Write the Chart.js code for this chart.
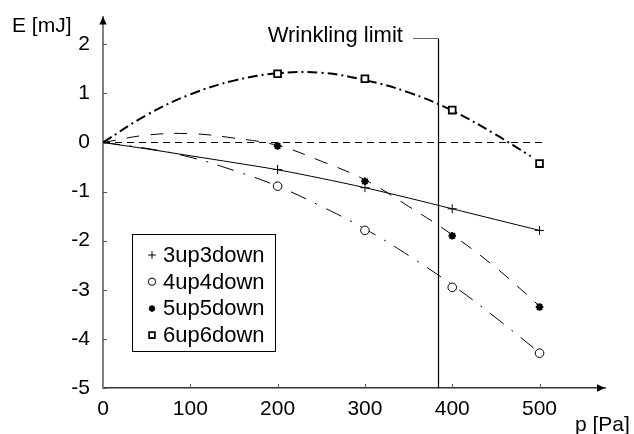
<!DOCTYPE html>
<html><head><meta charset="utf-8">
<script src="https://cdn.jsdelivr.net/npm/chart.js@4.4.1/dist/chart.umd.min.js"></script>
<style>html,body{margin:0;padding:0;background:#fff;}canvas{display:block;}</style>
</head><body>
<canvas id="c" width="634" height="434"></canvas>
<script>
// ---- data ----
const seriesNames = ['3up3down', '4up4down', '5up5down', '6up6down'];
const markerP = [200, 300, 400, 500];
const marker3 = [-0.55, -0.92, -1.35, -1.79];
const marker4 = [-0.89, -1.79, -2.95, -4.29];
const marker5 = [-0.07, -0.79, -1.90, -3.35];
const marker6 = [1.40, 1.30, 0.66, -0.43];

const fitP = [0, 50, 100, 150, 200, 250, 300, 350, 400, 450, 500];
const fit3 = [0, -0.13, -0.27, -0.41, -0.555, -0.73, -0.92, -1.13, -1.35, -1.57, -1.79];
const fit4 = [0, -0.12, -0.30, -0.57, -0.89, -1.30, -1.76, -2.30, -2.90, -3.57, -4.28];
const fit5 = [0, 0.15, 0.18, 0.09, -0.06, -0.38, -0.76, -1.30, -1.88, -2.55, -3.33];
const fit6P = [0, 50, 100, 150, 200, 250, 300, 350, 400, 450, 490];
const fit6 = [0, 0.56, 0.98, 1.26, 1.41, 1.42, 1.27, 1.02, 0.65, 0.16, -0.28];

const zeroLineP = [0, 503];
const zeroLineE = [0, 0];
const xTicks = [0, 100, 200, 300, 400, 500];
const yTicks = [-5, -4, -3, -2, -1, 0, 1, 2];
const wrinklingLimit = 384;
const wrinklingTop = 2.13;
const wrinklingTickStart = 355;
const wrinklingLabel = 'Wrinkling limit';
const xTitle = 'p [Pa]';
const yTitle = 'E [mJ]';

// ---- helpers ----
const pts = (xs, ys) => xs.map((x, i) => ({x: x, y: ys[i]}));
const FONT = "'Liberation Sans', Arial, Helvetica, sans-serif";

const markerStyles = [
  {pointStyle: 'cross', pointRadius: 4.5, pointBorderWidth: 1, pointBackgroundColor: '#000', pointBorderColor: '#000'},
  {pointStyle: 'circle', pointRadius: 4.3, pointBorderWidth: 1, pointBackgroundColor: '#fff', pointBorderColor: '#000'},
  {pointStyle: 'star', pointRadius: 3.8, pointBorderWidth: 2, pointBackgroundColor: '#000', pointBorderColor: '#000'},
  {pointStyle: 'rect', pointRadius: 4.8, pointBorderWidth: 1.8, pointBackgroundColor: '#fff', pointBorderColor: '#000'}
];
const markerData = [marker3, marker4, marker5, marker6];

const markerSets = markerData.map((m, i) => Object.assign({
  label: seriesNames[i], data: pts(markerP, m), showLine: false, isMarker: true
}, markerStyles[i]));

const lineBase = {showLine: true, pointRadius: 0, borderColor: '#000', fill: false, tension: 0.4};
const fitSets = [
  Object.assign({label: 'fit3', data: pts(fitP, fit3), borderWidth: 1}, lineBase, {tension: 0.3}),
  Object.assign({label: 'fit4', data: pts(fitP, fit4), borderWidth: 1, borderDash: [17, 10, 2, 10]}, lineBase),
  Object.assign({label: 'fit5', data: pts(fitP, fit5), borderWidth: 1, borderDash: [13, 11]}, lineBase),
  Object.assign({label: 'fit6', data: pts(fit6P, fit6), borderWidth: 2, borderDash: [10, 4, 2, 4]}, lineBase),
  Object.assign({label: 'zero', data: pts(zeroLineP, zeroLineE), borderWidth: 1, borderDash: [7, 5]}, lineBase, {tension: 0})
];

const noPad = s => { s.paddingTop = 0; s.paddingBottom = 0; s.paddingLeft = 0; s.paddingRight = 0; };

const decor = {
  id: 'decor',
  afterDraw(chart) {
    const ctx = chart.ctx;
    const xs = chart.scales.x, ys = chart.scales.y;
    const ax = xs.getPixelForValue(0);
    const ay = ys.getPixelForValue(-5);
    ctx.save();
    // inward tick marks
    ctx.strokeStyle = '#555'; ctx.lineWidth = 1;
    xTicks.forEach(v => { if (v === 0) return; const px = Math.round(xs.getPixelForValue(v)) + 0.5;
      ctx.beginPath(); ctx.moveTo(px, ay); ctx.lineTo(px, ay - 4); ctx.stroke(); });
    yTicks.forEach(v => { const py = Math.round(ys.getPixelForValue(v)) + 0.5;
      ctx.beginPath(); ctx.moveTo(ax, py); ctx.lineTo(ax + 4, py); ctx.stroke(); });
    // arrows
    const top = chart.chartArea.top, right = chart.chartArea.right;
    ctx.fillStyle = '#000';
    ctx.beginPath(); ctx.moveTo(ax, top - 0.8); ctx.lineTo(ax - 3.7, top + 7.2); ctx.lineTo(ax + 3.7, top + 7.2); ctx.closePath(); ctx.fill();
    ctx.beginPath(); ctx.moveTo(right, ay); ctx.lineTo(right - 8, ay - 3.7); ctx.lineTo(right - 8, ay + 3.7); ctx.closePath(); ctx.fill();
    // axis titles
    ctx.font = '21px ' + FONT; ctx.fillStyle = '#000'; ctx.textBaseline = 'middle'; ctx.textAlign = 'left';
    ctx.fillText(yTitle, 12, 26);
    ctx.fillText(xTitle, 575, 425);
    // wrinkling limit
    const wx = Math.round(xs.getPixelForValue(wrinklingLimit)) + 0.5;
    const wy = Math.round(ys.getPixelForValue(wrinklingTop)) + 0.5;
    ctx.strokeStyle = '#000'; ctx.lineWidth = 1.2;
    ctx.beginPath(); ctx.moveTo(wx, ay); ctx.lineTo(wx, wy); ctx.stroke();
    ctx.strokeStyle = '#666'; ctx.lineWidth = 1;
    ctx.beginPath(); ctx.moveTo(wx, wy); ctx.lineTo(xs.getPixelForValue(wrinklingTickStart), wy); ctx.stroke();
    ctx.font = '22px ' + FONT; ctx.textAlign = 'right';
    ctx.fillText(wrinklingLabel, xs.getPixelForValue(wrinklingTickStart) - 10, wy - 3);
    // legend
    ctx.strokeStyle = '#000'; ctx.lineWidth = 1;
    ctx.strokeRect(132.5, 234.5, 143, 117);
    ctx.font = '22px ' + FONT; ctx.textAlign = 'left'; ctx.textBaseline = 'middle';
    markerSets.forEach((ds, i) => {
      const y = 255 + i * 26.7;
      ctx.fillStyle = ds.pointBackgroundColor; ctx.strokeStyle = ds.pointBorderColor;
      ctx.lineWidth = ds.pointBorderWidth;
      Chart.helpers.drawPoint(ctx, {pointStyle: ds.pointStyle, radius: ds.pointRadius * 0.85, rotation: 0, borderWidth: ds.pointBorderWidth}, 152, y);
      ctx.fillStyle = '#000';
      ctx.fillText(ds.label, 163, y + 1);
    });
    ctx.restore();
  }
};

new Chart(document.getElementById('c').getContext('2d'), {
  type: 'scatter',
  data: {datasets: markerSets.concat(fitSets)},
  options: {
    responsive: false, animation: false, devicePixelRatio: 1,
    layout: {padding: {top: 17.3, right: 29, left: 0, bottom: 0}},
    plugins: {legend: {display: false}, tooltip: {enabled: false}},
    scales: {
      x: {
        type: 'linear', min: 0, max: 575,
        afterBuildTicks: s => { s.ticks = xTicks.map(v => ({value: v})); },
        afterFit: s => { s.height = 46; noPad(s); },
        grid: {display: false, drawTicks: false},
        border: {display: true, color: '#333', width: 1.5},
        ticks: {font: {family: FONT, size: 21}, color: '#000', padding: 9, maxRotation: 0, autoSkip: false}
      },
      y: {
        type: 'linear', min: -5, max: 2.55,
        afterBuildTicks: s => { s.ticks = yTicks.map(v => ({value: v})); },
        afterFit: s => { s.width = 103; noPad(s); },
        grid: {display: false, drawTicks: false},
        border: {display: true, color: '#808080', width: 2},
        ticks: {font: {family: FONT, size: 21}, color: '#000', padding: 13, autoSkip: false}
      }
    }
  },
  plugins: [decor]
});
</script>
</body></html>
